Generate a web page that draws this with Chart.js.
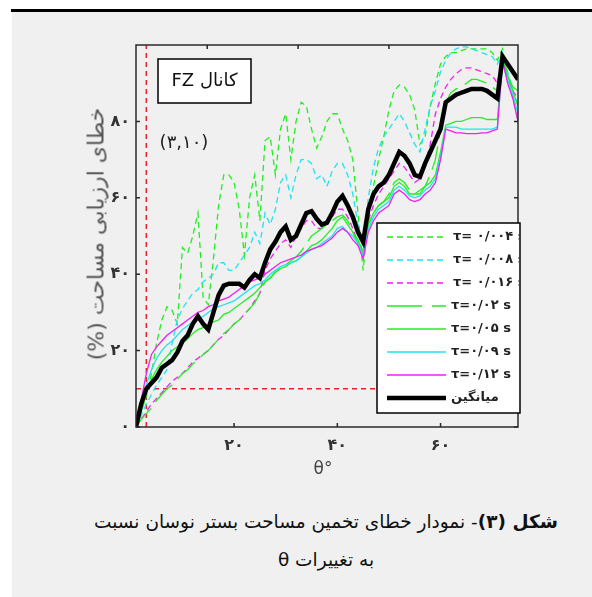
<!DOCTYPE html>
<html>
<head>
<meta charset="utf-8">
<script src="https://cdn.jsdelivr.net/npm/chart.js@4.4.1/dist/chart.umd.min.js"></script>
<style>
  html, body { margin: 0; padding: 0; background: #fff; }
  #page { position: relative; width: 592px; height: 597px; overflow: hidden; background: #fff; font-family: "DejaVu Sans", sans-serif; }
  #rule { position: absolute; left: 11px; top: 9px; width: 581px; height: 3px; background: #000; }
  #panel { position: absolute; left: 12px; top: 12px; width: 580px; height: 585px; background: #f0f0f0; }
  #chart { position: absolute; left: 0; top: 0; }
  #ytitle { position: absolute; left: 96px; top: 234px; transform: translate(-50%, -50%) rotate(-90deg); white-space: nowrap; font-size: 22px; color: #555; direction: rtl; }
  #xtitle { position: absolute; left: 323px; top: 468px; transform: translate(-50%, -50%); font-size: 17px; color: #444; }
  .cap { position: absolute; left: 60px; width: 532px; text-align: center; direction: rtl; font-size: 18.5px; color: #111; white-space: nowrap; }
</style>
</head>
<body>
<div id="page">
  <div id="rule"></div>
  <div id="panel"></div>
  <canvas id="chart" width="592" height="500"></canvas>
  <div id="ytitle">خطای ارزیابی مساحت (%)</div>
  <div id="xtitle">θ°</div>
  <div class="cap" style="top:511px"><b>شکل (۳)</b>- نمودار خطای تخمین مساحت بستر نوسان نسبت</div>
  <div class="cap" style="top:549px">به تغییرات θ</div>
</div>
<script>
// theta (degrees)
const theta = [1,2,3,4,5,6,7,8,9,10,11,12,13,14,15,16,17,18,19,20,21,22,23,24,25,26,27,28,29,30,
  31,32,33,34,35,36,37,38,39,40,41,42,43,44,45,46,47,48,49,50,51,52,53,54,55,56,57,58,59,60,
  61,62,63,64,65,66,67,68,69,70,71,72,73,74,75];

// error (%) per time constant
const tau004 = [0,4,8,14,22,28,31.5,30.5,27,47,45.5,50,56,34,32,44,58,66,66,64,57,45,60,66,54,75,76,66,78,82,
  70,80,85,84,78,73,76,80,82,82,78,75,70,56,41,55,63,70,76,83,88,89.5,89,87,83,74,76,84,90,95,
  97,98,98,98.5,99,99,99,99,99,98,96,99,92,86,80];
const tau008 = [0,3,6,8.5,11,13,15,22,28,31,33,35,36,38,39,40,43,43,41,41,43,45,47,51,48,56,53,57,64,66,
  60,66,70,70,69,65,66,63,67,69,69,66,61,53,47,60,68,73,76,78,80,82,80,77,74,72,78,84,88,93,
  96,98,99,99.5,99.5,99,98.5,98,97.5,97,95,98,93,88,84];
const tau016 = [0,2,4,6,7.5,9,10.5,12,13,14,15.5,17,18,19,20,21.5,23,24,25.5,27,28,29.5,31,33,35,41,44,46,48,49,
  47,50,52,54,54,52,52,53,55,57,57,55,52,48,45,54,58,61,63,65,67,69,68,66,64,65,69,74,82,86,
  89,91,92.5,93.5,94,94,93.5,93,92.5,92,90,97,91,88,86];
const tau02 = [0,2,3.5,5,7,8.5,10,11,12.5,14,15,16.5,17.5,19,20,21.5,23,24.5,25.5,27,28,29.5,31,32.5,35,38,39,40.5,41.5,42.5,
  43.5,44.5,46,48,50,51,52,53,54,55,55.5,54,51,48,46,53,56,58,59,61,64,65,64,62,61,61,63,66,70,78,
  85,87.5,88.5,89,90,91,91,90.5,90,89,88,97,92,89,88];
const tau05 = [0,4,9,12.5,15,17,18.5,20,21,22,23,24.5,25.5,26,27,27.5,28,29.5,30,31,32,33,34,35,36.5,38,39,40.5,41.5,42,
  43,43.5,44.5,46,47.5,48,49,50.5,52,54,55,53,51,49,46,53,56,58,59,60,63,64,63,61,61,62,63,64,66,72,
  79,79.5,80,80,80.5,81,81,81,80.5,80.5,80.5,96,92,88,84];
const tau09 = [0,5,11,15,18,20,21.5,22.5,24,25.5,26.5,27.5,28,29,30,31,31.5,32,32.5,33,34,35,36,37,37.5,38.5,40,41,42,42.5,
  43,43.5,44.5,45.5,46.5,47,48,49,50,52,52.5,51,50,48,45,52,55,57,58,59,62,63,62,60.5,60,60.5,62,63,65,71,
  78.5,78.5,78.5,78,78,78,78,78,78,78,78.5,95,91,87,82];
const tau12 = [0,7,14,19,21,22.5,24,25,26,27,28,29,30,30.5,31.5,32,33,33.5,34,35,36,37,38,38.5,39,40,41,42,43,43.5,
  44,44.5,45,46,46.5,47,47.5,48.5,49.5,51,52,51,49,47.5,44,51,54,56,57,58,61,62,61,59.5,59,59.5,61,62,64,70,
  78,77.5,77,77,76.8,76.8,76.8,77,77,77.5,78,96,90,86,80];
const meanErr = [0,6,10,11.5,13,15.5,16.5,17.5,19.5,22.5,24,27,29,27,25.5,30,34.5,37,37.5,37.5,37.5,36.5,38.5,40,39,43,46.5,48.5,51,52.5,
  49,50,53,56,56.5,54.5,53,53.5,56,59,60.5,58,55,51,48.5,57,61,63,64,66,69,72,71,69,66,65.5,69,72,75,78,
  85,86,87,87.5,88,88.5,88.5,88.5,88,87,86,97,95,93,91];

const seriesLabels = ['τ= ۰/۰۰۴ s', 'τ= ۰/۰۰۸ s', 'τ= ۰/۰۱۶ s', 'τ=۰/۰۲ s', 'τ=۰/۰۵ s', 'τ=۰/۰۹ s', 'τ=۰/۱۲ s', 'میانگین'];
const refPoint = [3, 10];          // (θ, error) marked by the red dashed lines
const xTicks = [20, 40, 60];
const topTicks = [14.8, 32.4, 50];
const yTicks = [0, 20, 40, 60, 80];

const fa = n => String(n).replace(/\d/g, d => '۰۱۲۳۴۵۶۷۸۹'[d]);
const pts = vals => theta.map((t, i) => ({ x: t, y: vals[i] }));

const GREEN = '#22ee22', CYAN = '#1fe3f0', MAGENTA = '#f020f0';

function line(label, vals, color, width, dash, order) {
  return { label, data: pts(vals), borderColor: color, borderWidth: width, borderDash: dash,
    pointRadius: 0, tension: 0, fill: false, order };
}

const datasets = [
  line(seriesLabels[0], tau004, GREEN, 1.3, [6, 4], 8),
  line(seriesLabels[1], tau008, CYAN, 1.3, [6, 4], 7),
  line(seriesLabels[2], tau016, MAGENTA, 1.3, [6, 4], 6),
  line(seriesLabels[3], tau02, GREEN, 1.3, [24, 8], 5),
  line(seriesLabels[4], tau05, GREEN, 1.3, [], 4),
  line(seriesLabels[5], tau09, CYAN, 1.3, [], 3),
  line(seriesLabels[6], tau12, MAGENTA, 1.3, [], 2),
  line(seriesLabels[7], meanErr, '#000', 4.5, [], 1),
  { label: 'refV', data: [{ x: refPoint[0], y: 0 }, { x: refPoint[0], y: 100 }], borderColor: '#e82028',
    borderWidth: 1.5, borderDash: [5, 4], pointRadius: 0, order: 9 },
  { label: 'refH', data: [{ x: 1, y: refPoint[1] }, { x: 75, y: refPoint[1] }], borderColor: '#e82028',
    borderWidth: 1.5, borderDash: [5, 4], pointRadius: 0, order: 9 }
];

const decor = {
  id: 'decor',
  afterDatasetsDraw(chart) {
    const { ctx, chartArea: a, scales: { x, y } } = chart;
    ctx.save();
    // frame + inward ticks
    ctx.strokeStyle = '#2a2a2a';
    ctx.lineWidth = 1.5;
    ctx.strokeRect(a.left, a.top, a.right - a.left, a.bottom - a.top);
    ctx.beginPath();
    xTicks.forEach(v => { const p = x.getPixelForValue(v); ctx.moveTo(p, a.bottom); ctx.lineTo(p, a.bottom - 4); });
    topTicks.forEach(v => { const p = x.getPixelForValue(v); ctx.moveTo(p, a.top); ctx.lineTo(p, a.top + 4); });
    yTicks.forEach(v => {
      const p = y.getPixelForValue(v);
      ctx.moveTo(a.left, p); ctx.lineTo(a.left + 4, p);
      ctx.moveTo(a.right, p); ctx.lineTo(a.right - 4, p);
    });
    ctx.stroke();

    // channel label box
    ctx.fillStyle = '#fff';
    ctx.fillRect(158, 59, 93, 44);
    ctx.strokeStyle = '#000';
    ctx.lineWidth = 1.5;
    ctx.strokeRect(158, 59, 93, 44);
    ctx.fillStyle = '#111';
    ctx.font = '18px "DejaVu Sans"';
    ctx.textAlign = 'center';
    ctx.textBaseline = 'middle';
    ctx.direction = 'rtl';
    ctx.fillText('کانال FZ', 204.5, 81);
    ctx.direction = 'ltr';

    // reference point note
    ctx.font = '18px "DejaVu Sans"';
    ctx.fillStyle = '#222';
    ctx.fillText('(' + fa(refPoint[0]) + ',' + fa(refPoint[1]) + ')', 184, 143);

    // legend
    const L = 377, T = 223, R = 520, B = 413;
    ctx.fillStyle = '#fff';
    ctx.fillRect(L, T, R - L, B - T);
    ctx.strokeStyle = '#000';
    ctx.lineWidth = 1.5;
    ctx.strokeRect(L, T, R - L, B - T);
    ctx.save();
    ctx.beginPath();
    ctx.rect(L, T, R - L - 1, B - T);
    ctx.clip();
    ctx.font = 'bold 13px "DejaVu Sans"';
    ctx.textAlign = 'left';
    ctx.textBaseline = 'middle';
    for (let i = 0; i < 8; i++) {
      const ds = chart.data.datasets[i];
      const ry = 237 + i * 23;
      ctx.strokeStyle = ds.borderColor;
      ctx.lineWidth = ds.borderWidth;
      ctx.setLineDash(ds.borderDash.length ? (i === 3 ? [35, 10] : ds.borderDash) : []);
      ctx.beginPath();
      ctx.moveTo(387, ry);
      ctx.lineTo(446, ry);
      ctx.stroke();
      ctx.setLineDash([]);
      ctx.fillStyle = '#222';
      ctx.fillText(ds.label, i < 3 ? 453 : 451, ry);
    }
    ctx.restore();
    ctx.restore();
  }
};

new Chart(document.getElementById('chart'), {
  type: 'line',
  data: { datasets },
  options: {
    responsive: false,
    animation: false,
    devicePixelRatio: 1,
    layout: { padding: { left: 0, top: 45, right: 74, bottom: 33 } },
    plugins: { legend: { display: false }, tooltip: { enabled: false } },
    scales: {
      x: {
        type: 'linear', min: 1, max: 75,
        afterBuildTicks: s => { s.ticks = xTicks.map(v => ({ value: v })); },
        afterFit: s => { s.height = 40; },
        grid: { display: false, drawTicks: false },
        border: { display: false },
        ticks: { callback: v => fa(v), color: '#333', padding: 9, maxRotation: 0,
          font: { family: 'DejaVu Sans', size: 16, weight: 'bold' } }
      },
      y: {
        min: 0, max: 100,
        afterBuildTicks: s => { s.ticks = yTicks.map(v => ({ value: v })); },
        afterFit: s => { s.width = 136; },
        grid: { display: false, drawTicks: false },
        border: { display: false },
        ticks: { callback: v => fa(v), color: '#333', padding: 6,
          font: { family: 'DejaVu Sans', size: 16, weight: 'bold' } }
      }
    }
  },
  plugins: [decor]
});
</script>
</body>
</html>
